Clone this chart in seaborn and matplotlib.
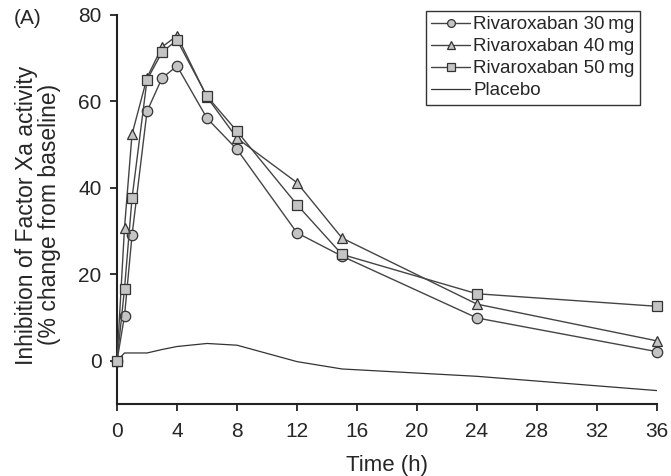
import pandas as pd
import seaborn as sns
import matplotlib.pyplot as plt

# time points (h)
time = [0, 0.5, 1, 2, 3, 4, 6, 8, 12, 15, 24, 36]

riva_30 = [0, 10.4, 29.0, 57.7, 65.4, 68.2, 56.1, 48.9, 29.6, 24.2, 9.9, 2.1]
riva_40 = [0, 30.8, 52.4, 65.5, 72.6, 75.2, 61.0, 51.5, 41.2, 28.4, 13.1, 4.6]
riva_50 = [0, 16.7, 37.6, 65.0, 71.4, 74.2, 61.2, 53.1, 36.1, 24.6, 15.5, 12.6]
placebo = [0, 1.8, 1.8, 1.8, 2.6, 3.3, 4.0, 3.6, -0.2, -1.9, -3.6, -6.9]

labels = ['Rivaroxaban 30\u2009mg', 'Rivaroxaban 40\u2009mg', 'Rivaroxaban 50\u2009mg', 'Placebo']
markers = ['o', '^', 's', None]

sns.set_style('ticks')
plt.rcParams['font.family'] = ['Liberation Sans', 'DejaVu Sans']

rows = []
for lab, vals in zip(labels, [riva_30, riva_40, riva_50, placebo]):
    for t, v in zip(time, vals):
        rows.append({'time': t, 'value': v, 'group': lab})
df = pd.DataFrame(rows)

fig = plt.figure(figsize=(6.71, 4.76), dpi=100)
ax = fig.add_axes([0.1744, 0.1513, 0.8047, 0.8172])

for lab, mk in zip(labels, markers):
    d = df[df['group'] == lab]
    if mk is None:
        sns.lineplot(data=d, x='time', y='value', ax=ax, color='#333333',
                     linewidth=0.9, label=lab)
    else:
        sns.lineplot(data=d, x='time', y='value', ax=ax, color='#444444',
                     linewidth=1.0, marker=mk, markersize=7.5,
                     markerfacecolor='#c4c4c4', markeredgecolor='#333333',
                     markeredgewidth=0.9, label=lab, clip_on=False, zorder=3)

ax.set_xlim(0, 36)
ax.set_ylim(-10, 80)
ax.set_xticks(range(0, 37, 4))
ax.set_yticks([0, 20, 40, 60, 80])
ax.tick_params(labelsize=15, width=1.3, length=5, color='#222222')
ax.tick_params(axis='x', pad=8)
ax.tick_params(axis='y', pad=6)
for s in ['left', 'bottom']:
    ax.spines[s].set_linewidth(1.5)
    ax.spines[s].set_color('#222222')
sns.despine(ax=ax)

ax.set_xlabel('Time (h)', fontsize=16, labelpad=10)
ax.set_ylabel('Inhibition of Factor Xa activity\n(% change from baseline)', fontsize=16.5,
              linespacing=1.0)
ax.yaxis.set_label_coords(-0.104, 0.486)

leg = ax.legend(loc='upper right', bbox_to_anchor=(0.968, 1.01), fontsize=13.5,
                frameon=True, fancybox=False, edgecolor='#333333', framealpha=1,
                handlelength=2.1, handletextpad=0.15, borderpad=0.28, labelspacing=0.26,
                markerscale=0.75, borderaxespad=0)
leg.get_frame().set_linewidth(1.0)

fig.text(0.02, 0.962, '(A)', fontsize=15, va='center')

fig.savefig('out.png', dpi=100)
